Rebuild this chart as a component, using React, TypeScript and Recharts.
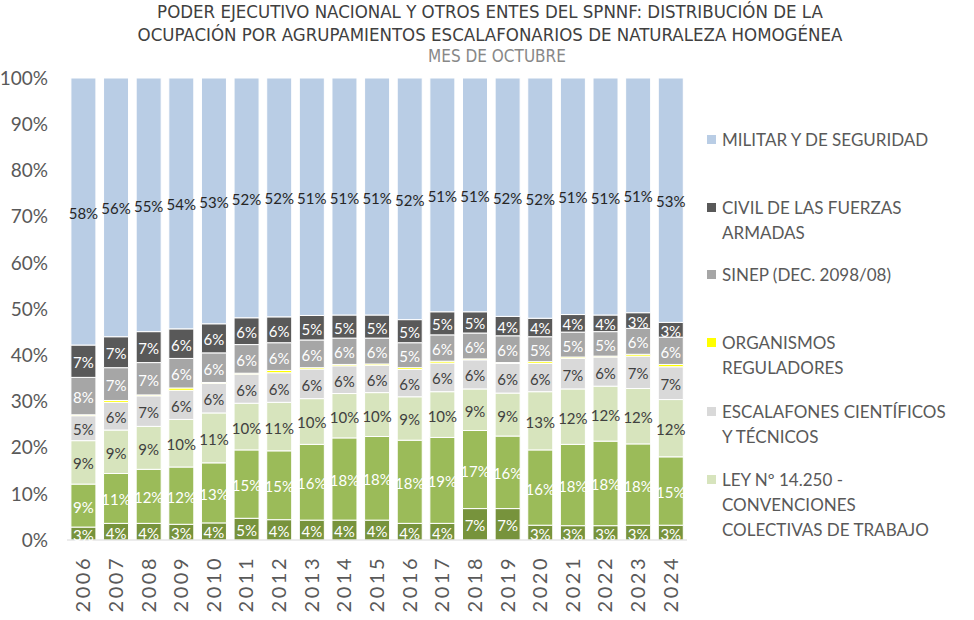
import { Bar, BarChart, LabelList, XAxis, YAxis } from "recharts";

const YEARS = [
  "2006", "2007", "2008", "2009", "2010", "2011", "2012", "2013", "2014", "2015",
  "2016", "2017", "2018", "2019", "2020", "2021", "2022", "2023", "2024",
];

// stacked bottom → top, values in % of total
const BASE_DARK = [2.8, 3.6, 3.6, 3.4, 3.7, 4.7, 4.4, 4.3, 4.3, 4.3, 3.6, 3.6, 6.8, 6.8, 3.2, 3.1, 3.1, 3.2, 3.2];
const BASE_MID = [9.3, 10.8, 11.7, 12.4, 13.0, 14.8, 14.9, 16.4, 17.8, 18.1, 18.0, 18.6, 16.9, 15.7, 16.3, 17.6, 18.3, 17.6, 14.8];
const LEY_14250 = [9.4, 9.4, 9.3, 10.3, 10.8, 10.1, 10.5, 9.9, 9.6, 9.5, 9.4, 9.9, 9.0, 9.3, 12.6, 12.0, 11.9, 12.0, 12.4];
const CIENTIFICOS = [5.4, 6.0, 6.6, 6.3, 6.4, 6.3, 6.4, 6.4, 6.0, 5.9, 5.9, 6.2, 6.3, 6.4, 6.1, 6.6, 6.3, 7.0, 7.1];
const REGULADORES = [0.2, 0.4, 0.2, 0.5, 0.2, 0.2, 0.5, 0.3, 0.3, 0.3, 0.4, 0.4, 0.2, 0.2, 0.4, 0.3, 0.2, 0.4, 0.5];
const SINEP = [8.1, 7.1, 7.0, 6.4, 6.4, 6.2, 6.0, 6.0, 5.7, 5.6, 5.4, 5.7, 5.6, 5.8, 5.4, 5.4, 5.3, 5.6, 5.9];
const CIVIL_FFAA = [7.0, 6.7, 6.7, 6.4, 6.3, 5.8, 5.6, 5.3, 5.0, 5.0, 5.0, 5.0, 4.6, 4.2, 4.0, 3.8, 3.6, 3.4, 3.2];
const MILITAR = [57.8, 56.0, 54.9, 54.3, 53.2, 51.9, 51.7, 51.4, 51.3, 51.3, 52.3, 50.6, 50.6, 51.6, 52.0, 51.2, 51.3, 50.8, 52.9];

const Y_TICKS = [0, 10, 20, 30, 40, 50, 60, 70, 80, 90, 100];

const SERIES = [
  { key: "baseDark", name: "OTROS", values: BASE_DARK, color: "#77933C", text: "#FFFFFF" },
  { key: "baseMid", name: "OTROS ESCALAFONES", values: BASE_MID, color: "#9BBB59", text: "#FFFFFF" },
  { key: "ley", name: "LEY Nº 14.250 - CONVENCIONES COLECTIVAS DE TRABAJO", values: LEY_14250, color: "#D7E4BD", text: "#404040" },
  { key: "cient", name: "ESCALAFONES CIENTÍFICOS Y TÉCNICOS", values: CIENTIFICOS, color: "#D9D9D9", text: "#404040" },
  { key: "reg", name: "ORGANISMOS REGULADORES", values: REGULADORES, color: "#FFFF00", text: null },
  { key: "sinep", name: "SINEP (DEC. 2098/08)", values: SINEP, color: "#A6A6A6", text: "#FFFFFF" },
  { key: "civil", name: "CIVIL DE LAS FUERZAS ARMADAS", values: CIVIL_FFAA, color: "#595959", text: "#FFFFFF" },
  { key: "militar", name: "MILITAR Y DE SEGURIDAD", values: MILITAR, color: "#B9CDE5", text: "#262626" },
];

// legend text as wrapped in the original (top → bottom)
const LEGEND_LINES: { key: string; lines: string[]; top: number }[] = [
  { key: "militar", lines: ["MILITAR Y DE SEGURIDAD"], top: 127 },
  { key: "civil", lines: ["CIVIL DE LAS FUERZAS", "ARMADAS"], top: 195 },
  { key: "sinep", lines: ["SINEP (DEC. 2098/08)"], top: 262 },
  { key: "reg", lines: ["ORGANISMOS", "REGULADORES"], top: 330 },
  { key: "cient", lines: ["ESCALAFONES CIENTÍFICOS", "Y TÉCNICOS"], top: 399 },
  { key: "ley", lines: ["LEY Nº 14.250 -", "CONVENCIONES", "COLECTIVAS DE TRABAJO"], top: 467 },
];

const data = YEARS.map((year, i) => {
  const row: Record<string, string | number> = { year };
  SERIES.forEach((s) => {
    row[s.key] = s.values[i];
  });
  return row;
});

const FONT = "Lato, 'Open Sans', sans-serif";

const segmentLabel = (color: string) => (props: any) => {
  const { x, y, width, height, value } = props;
  if (value == null || !height) return null;
  const v = Array.isArray(value) ? value[1] - value[0] : Number(value);
  return (
    <text
      x={Number(x) + Number(width) / 2}
      y={Number(y) + Number(height) / 2 + 1}
      textAnchor="middle"
      dominantBaseline="central"
      fill={color}
      fontSize={15}
      fontFamily={FONT}
    >
      {Math.round(v)}%
    </text>
  );
};

const YearTick = (props: any) => {
  const { x, y, payload } = props;
  return (
    <text
      transform={`translate(${x + 7},${y}) rotate(-90)`}
      textAnchor="end"
      fill="#595959"
      fontSize={20}
      letterSpacing={2.5}
      fontFamily={FONT}
    >
      {payload.value}
    </text>
  );
};

export default function App() {
  return (
    <div
      style={{
        position: "absolute",
        left: 0,
        top: 0,
        width: 974,
        height: 620,
        background: "#fff",
        fontFamily: FONT,
        overflow: "hidden",
      }}
    >
      <div
        style={{
          position: "absolute",
          left: 0,
          width: 980,
          top: 0,
          textAlign: "center",
          fontFamily: "'Liberation Sans Narrow', 'DejaVu Sans Condensed', sans-serif",
          color: "#404040",
          fontSize: 18.5,
          lineHeight: "23px",
        }}
      >
        <div>PODER EJECUTIVO NACIONAL Y OTROS ENTES DEL SPNNF: DISTRIBUCIÓN DE LA</div>
        <div>OCUPACIÓN POR AGRUPAMIENTOS ESCALAFONARIOS DE NATURALEZA HOMOGÉNEA</div>
        <div style={{ color: "#888888", fontSize: 17, lineHeight: "20px", paddingLeft: 14 }}>
          MES DE OCTUBRE
        </div>
      </div>

      <div style={{ position: "absolute", left: 0, top: 0 }}>
        <BarChart
          width={974}
          height={620}
          data={data}
          margin={{ top: 78, right: 287, bottom: 10, left: 7 }}
          barCategoryGap="12%"
        >
          <XAxis
            dataKey="year"
            interval={0}
            tickLine={false}
            tickSize={0}
            tickMargin={16}
            axisLine={{ stroke: "#D9D9D9" }}
            height={70}
            tick={<YearTick />}
          />
          <YAxis
            width={60}
            domain={[0, 100]}
            ticks={Y_TICKS}
            allowDataOverflow
            axisLine={false}
            tickLine={false}
            tickSize={0}
            tickMargin={19}
            tickFormatter={(v: number) => `${v}%`}
            tick={{ fill: "#595959", fontSize: 19, fontFamily: FONT }}
          />
          {SERIES.map((s) => (
            <Bar
              key={s.key}
              dataKey={s.key}
              name={s.name}
              stackId="a"
              fill={s.color}
              stroke="#FFFFFF"
              strokeWidth={1}
              isAnimationActive={false}
            >
              {s.text ? (
                <LabelList dataKey={s.key} content={segmentLabel(s.text)} />
              ) : null}
            </Bar>
          ))}
        </BarChart>
      </div>

      {LEGEND_LINES.map((item) => {
        const s = SERIES.find((x) => x.key === item.key)!;
        return (
          <div
            key={item.key}
            style={{ position: "absolute", left: 707, top: item.top, color: "#595959", fontSize: 17 }}
          >
            <span
              style={{
                position: "absolute",
                left: 0,
                top: 8,
                width: 9,
                height: 9,
                background: s.color,
              }}
            />
            <div style={{ marginLeft: 15, lineHeight: "25px", whiteSpace: "nowrap" }}>
              {item.lines.map((l) => (
                <div key={l}>{l}</div>
              ))}
            </div>
          </div>
        );
      })}
    </div>
  );
}
